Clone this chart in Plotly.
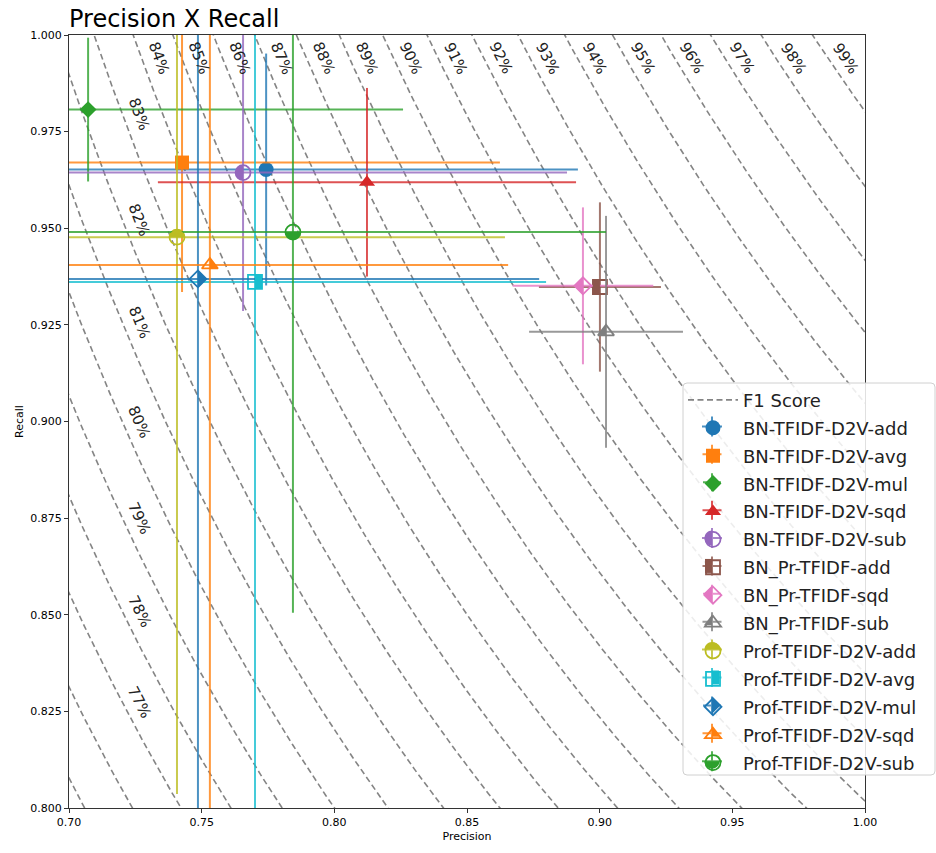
import numpy as np
import plotly.graph_objects as go

# ---------------- data ----------------
names = ["BN-TFIDF-D2V-add", "BN-TFIDF-D2V-avg", "BN-TFIDF-D2V-mul", "BN-TFIDF-D2V-sqd",
         "BN-TFIDF-D2V-sub", "BN_Pr-TFIDF-add", "BN_Pr-TFIDF-sqd", "BN_Pr-TFIDF-sub",
         "Prof-TFIDF-D2V-add", "Prof-TFIDF-D2V-avg", "Prof-TFIDF-D2V-mul",
         "Prof-TFIDF-D2V-sqd", "Prof-TFIDF-D2V-sub"]
precision = [0.7743, 0.7426, 0.7072, 0.8123, 0.7656, 0.9001, 0.8937, 0.9024,
             0.7407, 0.7701, 0.7486, 0.7531, 0.7844]
recall = [0.9652, 0.9670, 0.9807, 0.9619, 0.9644, 0.9348, 0.9351, 0.9232,
          0.9477, 0.9361, 0.9369, 0.9405, 0.9490]
precision_err = [0.1175, 0.1198, 0.1187, 0.0788, 0.1221, 0.0230, 0.0265, 0.0290,
                 0.1236, 0.1097, 0.1286, 0.1124, 0.1180]
recall_err = [0.0300, 0.0335, 0.0186, 0.0244, 0.0358, 0.0219, 0.0203, 0.0300,
              0.1441, 0.1500, 0.1500, 0.1500, 0.0985]

f1_levels = [0.70, 0.71, 0.72, 0.73, 0.74, 0.75, 0.76, 0.77, 0.78, 0.79, 0.80, 0.81,
             0.82, 0.83, 0.84, 0.85, 0.86, 0.87, 0.88, 0.89, 0.90, 0.91, 0.92,
             0.93, 0.94, 0.95, 0.96, 0.97, 0.98, 0.99]
f1_labelled = [0.77, 0.78, 0.79, 0.80, 0.81, 0.82, 0.83, 0.84, 0.85, 0.86, 0.87,
               0.88, 0.89, 0.90, 0.91, 0.92, 0.93, 0.94, 0.95, 0.96, 0.97, 0.98, 0.99]

x_ticks = [0.70, 0.75, 0.80, 0.85, 0.90, 0.95, 1.00]
y_ticks = [0.800, 0.825, 0.850, 0.875, 0.900, 0.925, 0.950, 0.975, 1.000]

# ---------------- style ----------------
tab10 = ["#1f77b4", "#ff7f0e", "#2ca02c", "#d62728", "#9467bd", "#8c564b",
         "#e377c2", "#7f7f7f", "#bcbd22", "#17becf"]
colors = [tab10[i % 10] for i in range(len(names))]
symbols = ["circle", "square", "diamond", "triangle-up"] * 3 + ["circle"]
fills = ["full"] * 4 + ["left"] * 4 + ["top", "right", "right", "right", "bottom"]
msize = {"circle": 15, "square": 14, "diamond": 13, "triangle-up": 14}

W, H = 936, 853
ML, MR, MT, MB = 69, 71, 35, 42
X0, X1, Y0, Y1 = 0.70, 1.00, 0.80, 1.00
PW, PH = W - ML - MR, H - MT - MB
kx = PW / (X1 - X0)
ky = PH / (Y1 - Y0)

# legend box (pixels)
LG_L, LG_T, LG_R, LG_B = 683, 383, 935, 775
LG_ROW0, LG_DY, LG_MX = 400, 28.0, 712


def xpap(px):
    return (px - ML) / PW


def ypap(py):
    return (H - MB - py) / PH


def rgba(hexc, a):
    h = hexc.lstrip("#")
    return "rgba(%d,%d,%d,%.2f)" % (int(h[0:2], 16), int(h[2:4], 16), int(h[4:6], 16), a)


def half_path(sym, s, fs):
    rr = s / 2.0
    if sym == "circle":
        k = 0.5523 * rr
        base = [(0, -rr), (-k, -rr), (-rr, -k), (-rr, 0), (-rr, k), (-k, rr), (0, rr)]
    elif sym == "square":
        base = [(0, -rr), (-rr, -rr), (-rr, rr), (0, rr)]
    elif sym == "diamond":
        d = 1.3 * rr
        base = [(0, -d), (-d, 0), (0, d)]
    else:
        rt = 2 * rr / np.sqrt(3)
        base = [(0, -rr / 2), (-rt, -rr / 2), (0, rr)]
    if fs == "left":
        pts = base
    elif fs == "right":
        pts = [(-a, b) for a, b in base]
    elif fs == "top":
        pts = [(b, -a) for a, b in base]
    else:
        pts = [(-b, a) for a, b in base]
    if sym == "circle":
        p = pts
        return ("M %.2f,%.2f C %.2f,%.2f %.2f,%.2f %.2f,%.2f C %.2f,%.2f %.2f,%.2f %.2f,%.2f Z" % (
            p[0][0], p[0][1], p[1][0], p[1][1], p[2][0], p[2][1], p[3][0], p[3][1],
            p[4][0], p[4][1], p[5][0], p[5][1], p[6][0], p[6][1]))
    return "M " + " L ".join("%.2f,%.2f" % (a, b) for a, b in pts) + " Z"


def box_path(l, t, r, b, rc):
    # rounded rectangle, pixel offsets relative to the plot's top-left corner (y up)
    def P(x, y):
        return "%.2f,%.2f" % (x - ML, MT - y)
    return ("M %s L %s Q %s %s L %s Q %s %s L %s Q %s %s L %s Q %s %s Z" % (
        P(l + rc, t), P(r - rc, t), P(r, t), P(r, t + rc),
        P(r, b - rc), P(r, b), P(r - rc, b),
        P(l + rc, b), P(l, b), P(l, b - rc),
        P(l, t + rc), P(l, t), P(l + rc, t)))


fig = go.Figure()
shapes = []

# legend background box with rounded corners (drawn as a shape)
shapes.append(dict(type="path", xref="paper", yref="paper", xsizemode="pixel", ysizemode="pixel",
                   xanchor=0, yanchor=1, path=box_path(LG_L, LG_T, LG_R, LG_B, 4),
                   fillcolor="rgba(255,255,255,0.85)", line=dict(color="#d0d0d0", width=1),
                   layer="above"))

# iso-F1 curves (one trace)
px_all, py_all = [], []
p_grid = np.linspace(0.695, 1.005, 400)
for f in f1_levels:
    r = f * p_grid / (2 * p_grid - f)
    px_all += list(p_grid) + [None]
    py_all += list(r) + [None]
fig.add_trace(go.Scatter(x=px_all, y=py_all, mode="lines", name="F1 Score", legendgroup="f1",
                         line=dict(color="rgba(110,110,110,0.85)", width=1.6, dash="6px,3.5px"),
                         hoverinfo="skip"))

# F1 labels
r_top = 0.994
p_side = 0.72
dx = 0.0065
for f in f1_labelled:
    pt = f * r_top / (2 * r_top - f)
    if pt >= p_side:
        p0, r0 = pt, r_top
    else:
        p0 = p_side
        r0 = f * p0 / (2 * p0 - f)
    slope = f * f / (2 * p0 - f) ** 2 * ky / kx
    ang = float(np.degrees(np.arctan(slope)))
    fig.add_annotation(x=p0 + dx, y=r0, text="%d%%" % round(f * 100), showarrow=False,
                       textangle=ang, font=dict(family="DejaVu Sans", size=15, color="#222"),
                       xanchor="center", yanchor="middle")

# data points
for i, n in enumerate(names):
    c = colors[i]
    sym = symbols[i]
    s = msize[sym]
    full = fills[i] == "full"
    fig.add_trace(go.Scatter(
        x=[precision[i]], y=[recall[i]], mode="markers", name=n, legendgroup="g%d" % i,
        marker=dict(symbol=sym if full else sym + "-open", size=s, color=c,
                    line=dict(width=1.8 if not full else 0, color=c)),
        error_x=dict(type="data", array=[precision_err[i]], color=rgba(c, 0.8),
                     thickness=2, width=0),
        error_y=dict(type="data", array=[recall_err[i]], color=rgba(c, 0.8),
                     thickness=2, width=0),
    ))
    # legend error-bar cross
    ly = ypap(LG_ROW0 + (i + 1) * LG_DY)
    e = s / 2.0 + 2.5
    shapes.append(dict(type="path", xref="paper", yref="paper", xsizemode="pixel",
                       ysizemode="pixel", xanchor=xpap(LG_MX), yanchor=ly,
                       path="M %.1f,0 L %.1f,0 M 0,%.1f L 0,%.1f" % (-e, e, -e, e),
                       line=dict(color=rgba(c, 0.8), width=2), layer="above"))
    if full:
        continue
    hp = half_path(sym, s, fills[i])
    shapes.append(dict(type="path", xref="x", yref="y", xsizemode="pixel", ysizemode="pixel",
                       xanchor=precision[i], yanchor=recall[i], path=hp,
                       fillcolor=c, line=dict(width=0), layer="above"))
    shapes.append(dict(type="path", xref="paper", yref="paper", xsizemode="pixel",
                       ysizemode="pixel", xanchor=xpap(LG_MX), yanchor=ly, path=hp,
                       fillcolor=c, line=dict(width=0), layer="above"))

fig.update_layout(
    width=W, height=H,
    margin=dict(l=ML, r=MR, t=MT, b=MB),
    plot_bgcolor="white", paper_bgcolor="white",
    font=dict(family="DejaVu Sans", color="#000"),
    title=dict(text="Precision X Recall", x=0, xref="paper", xanchor="left",
               y=1 - 19 / H, yref="container", yanchor="middle",
               font=dict(size=24, color="#000")),
    shapes=shapes,
    showlegend=True,
    legend=dict(x=xpap(LG_L), xanchor="left", y=ypap(LG_T), yanchor="top",
                bgcolor="rgba(0,0,0,0)", borderwidth=0, itemwidth=50,
                font=dict(size=18, color="#222"), tracegroupgap=1.5),
)
fig.update_xaxes(range=[X0, X1], tickvals=x_ticks, ticktext=["%.2f" % v for v in x_ticks],
                 showgrid=False, zeroline=False, showline=True, mirror=True,
                 linecolor="#333", linewidth=1, ticks="outside", ticklen=4, tickcolor="#333",
                 tickfont=dict(size=11), title=dict(text="Precision", font=dict(size=11), standoff=4))
fig.update_yaxes(range=[Y0, Y1], tickvals=y_ticks, ticktext=["%.3f" % v for v in y_ticks],
                 showgrid=False, zeroline=False, showline=True, mirror=True,
                 linecolor="#333", linewidth=1, ticks="outside", ticklen=4, tickcolor="#333",
                 tickfont=dict(size=11), title=dict(text="Recall", font=dict(size=11), standoff=4))

fig.write_html("out.html")
